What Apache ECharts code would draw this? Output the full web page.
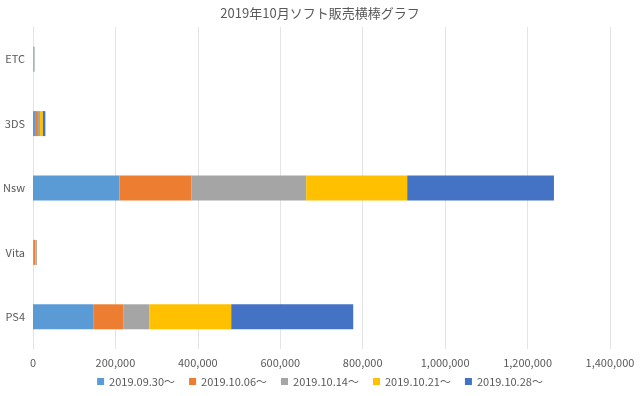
<!DOCTYPE html>
<html>
<head>
<meta charset="utf-8">
<script src="https://cdn.jsdelivr.net/npm/echarts@6/dist/echarts.min.js"></script>
<style>
html, body { margin: 0; padding: 0; background: #fff; }
#bar1 { width: 640px; height: 396px; }
</style>
</head>
<body>
<div id="bar1"></div>
<script>
var bar1 = echarts.init(document.getElementById('bar1'));

// 機種（上から順）
var categories = ['ETC', '3DS', 'Nsw', 'Vita', 'PS4'];
// 週ごとの販売本数
var weekNames = ['2019.09.30～', '2019.10.06～', '2019.10.14～', '2019.10.21～', '2019.10.28～'];
var week0930 = [800, 5000, 210000, 1000, 146000];
var week1006 = [400, 7000, 174000, 5000, 74000];
var week1014 = [1200, 5000, 279000, 1000, 62000];
var week1021 = [500, 7000, 245000, 1500, 199000];
var week1028 = [800, 6000, 356000, 1000, 296000];
var xTicks = [0, 200000, 400000, 600000, 800000, 1000000, 1200000, 1400000];

var colors = ['#5b9bd5', '#ed7d31', '#a5a5a5', '#ffc000', '#4472c4'];
var weekData = [week0930, week1006, week1014, week1021, week1028];
var font = '"Noto Sans CJK JP", "Noto Sans", sans-serif';

var series = weekNames.map(function (name, i) {
    return {
        name: name,
        type: 'bar',
        stack: 'total',
        barWidth: 25,
        itemStyle: { color: colors[i] },
        emphasis: { disabled: true },
        data: weekData[i]
    };
});

var option = {
    animation: false,
    color: colors,
    title: {
        text: '2019年10月ソフト販売横棒グラフ',
        left: 'center',
        top: 2,
        textStyle: {
            color: '#595959',
            fontSize: 13,
            fontWeight: 'normal',
            fontFamily: font
        }
    },
    legend: {
        bottom: 4,
        left: 'center',
        itemWidth: 7,
        itemHeight: 7,
        itemGap: 14,
        icon: 'rect',
        textStyle: { color: '#595959', fontSize: 11, fontFamily: font },
        data: weekNames
    },
    grid: {
        top: 27,
        left: 33,
        right: 30,
        bottom: 47,
        containLabel: false,
        outerBoundsMode: 'none'
    },
    xAxis: {
        type: 'value',
        min: xTicks[0],
        max: xTicks[xTicks.length - 1],
        interval: 200000,
        axisLine: { show: false },
        axisTick: { show: false },
        splitLine: { lineStyle: { color: '#e3e3e3', width: 1 } },
        axisLabel: {
            color: '#595959',
            fontSize: 11,
            fontFamily: font,
            margin: 8,
            formatter: function (v) { return v.toLocaleString('en-US'); }
        }
    },
    yAxis: {
        type: 'category',
        inverse: true,
        data: categories,
        axisTick: { show: false },
        axisLine: { show: true, lineStyle: { color: '#e3e3e3' } },
        axisLabel: { color: '#595959', fontSize: 11, fontFamily: font, margin: 8 }
    },
    series: series
};

bar1.setOption(option);
</script>
</body>
</html>
